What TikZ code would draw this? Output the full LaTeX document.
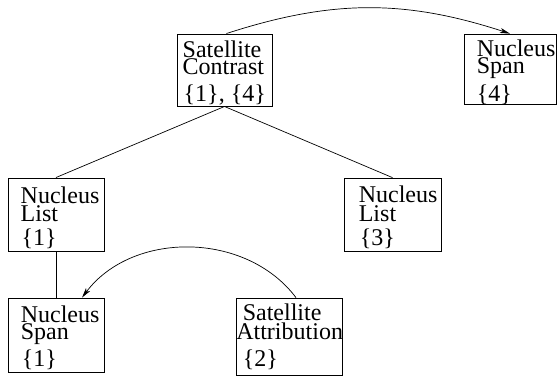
\documentclass[tikz,border=0pt]{standalone}
\usepackage{fontspec}
\setmainfont{Liberation Serif}
\usetikzlibrary{arrows.meta}
\newcommand\tribox[5]{\vtop{\baselineskip=#1\lineskiplimit=-100pt\lineskip=0pt
  \hbox{#2}\hbox{#3}\vskip #4\hbox{#5}}}
\begin{document}
\begin{tikzpicture}[x=1pt,y=1pt,
  box/.style={draw,line width=0.75pt,inner sep=0pt,rectangle},
  thickbox/.style={box,line width=0.95pt},
  txt/.style={anchor=base west,inner sep=0pt,font=\fontsize{24}{17}\selectfont},
  link/.style={line width=0.7pt},
  arc/.style={line width=0.7pt,-{Stealth[length=10pt,width=5pt,inset=2.5pt]}}]
\useasboundingbox (0,0) rectangle (557,375);
% boxes
\node[thickbox,minimum width=95pt,minimum height=72pt] (c) at (224.5,305) {};
\node[box,minimum width=92pt,minimum height=70pt] (s4) at (510,306) {};
\node[thickbox,minimum width=96pt,minimum height=73pt] (l1) at (56,160.5) {};
\node[box,minimum width=97pt,minimum height=73pt] (l3) at (392.5,160.5) {};
\node[box,minimum width=96pt,minimum height=74pt] (s1) at (56,40) {};
\node[box,minimum width=106pt,minimum height=77.5pt] (a2) at (289,38.25) {};
% texts
\node[txt] (ct) at ([shift={(6,-24)}]c.north west)
  {\tribox{17pt}{Satellite}{Contrast}{10pt}{\kern1pt\{1\}, \{4\}}};
\node[txt] (s4t) at ([shift={(13,-23)}]s4.north west)
  {\tribox{17pt}{Nucleus}{Span}{11pt}{\{4\}}};
\node[txt] (l1t) at ([shift={(13,-26)}]l1.north west)
  {\tribox{18pt}{Nucleus}{List}{6pt}{\kern1pt\{1\}}};
\node[txt] (l3t) at ([shift={(15,-25)}]l3.north west)
  {\tribox{18.5pt}{Nucleus}{List}{6pt}{\kern1pt\{3\}}};
\node[txt] (s1t) at ([shift={(13,-25)}]s1.north west)
  {\tribox{17pt}{Nucleus}{Span}{10pt}{\kern1pt\{1\}}};
\node[txt] (a2t) at ([shift={(7,-23)}]a2.north west)
  {\tribox{19pt}{Satellite}{\kern-6.5pt Attribution}{8pt}{\{2\}}};
% connectors
\draw[link] (c.south) -- (l1.north);
\draw[link] (c.south) -- (l3.north);
\draw[link] (l1.south) -- (s1.north);
\draw[arc] ([xshift=2pt]c.north) to[bend left=18] (s4.north);
\draw[arc] ([xshift=7pt]a2.north) to[out=127,in=53] ([xshift=26pt]s1.north);
\end{tikzpicture}
\end{document}
